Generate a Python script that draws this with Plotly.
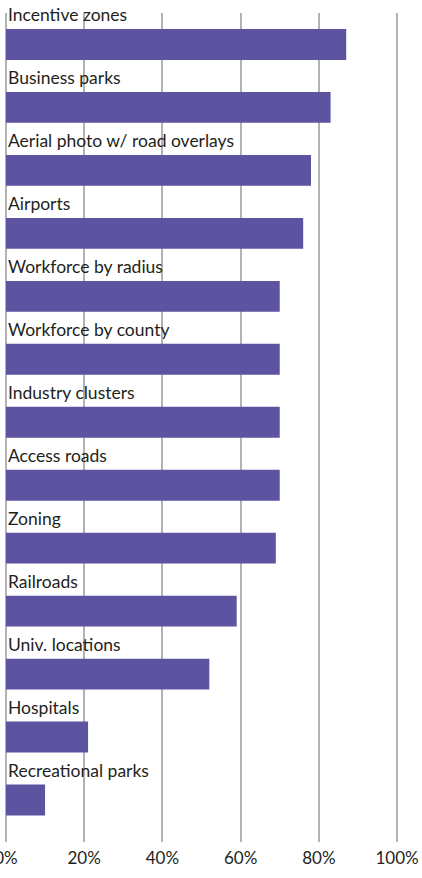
import plotly.graph_objects as go

categories = ["Incentive zones", "Business parks", "Aerial photo w/ road overlays", "Airports",
              "Workforce by radius", "Workforce by county", "Industry clusters", "Access roads",
              "Zoning", "Railroads", "Univ. locations", "Hospitals", "Recreational parks"]
values = [87, 83, 78, 76, 70, 70, 70, 70, 69, 59, 52, 21, 10]
tick_vals = [0, 20, 40, 60, 80, 100]
tick_text = ["0%", "20%", "40%", "60%", "80%", "100%"]

BAR = "#5C53A1"
TXT = "#231F20"
FONT = "Lato"

fig = go.Figure(go.Bar(
    x=values, y=categories, orientation="h",
    marker=dict(color=BAR, line=dict(width=0)),
    width=0.49, hoverinfo="skip",
))

for c in categories:
    fig.add_annotation(x=0, y=c, xref="x", yref="y", text=c, showarrow=False,
                       xanchor="left", yanchor="bottom", yshift=17, xshift=0,
                       font=dict(family=FONT, size=17.5, color=TXT))

fig.update_layout(
    width=422, height=878,
    margin=dict(l=4, r=23, t=13, b=36, autoexpand=False),
    paper_bgcolor="white", plot_bgcolor="white",
    showlegend=False,
    font=dict(family=FONT, color=TXT),
    xaxis=dict(range=[-0.5, 100.5], tickvals=tick_vals, ticktext=tick_text,
               showgrid=True, gridcolor="#B3B3B3", gridwidth=1.5,
               zeroline=False, showline=False, ticks="", automargin=False,
               ticklabeloverflow="allow",
               tickfont=dict(family=FONT, size=17, color=TXT), ticklabelstandoff=4,
               fixedrange=True),
    yaxis=dict(autorange="reversed", showticklabels=False, showgrid=False,
               zeroline=False, showline=False, ticks="", fixedrange=True, automargin=False),
)

fig.write_html("out.html", config={"displayModeBar": False})
